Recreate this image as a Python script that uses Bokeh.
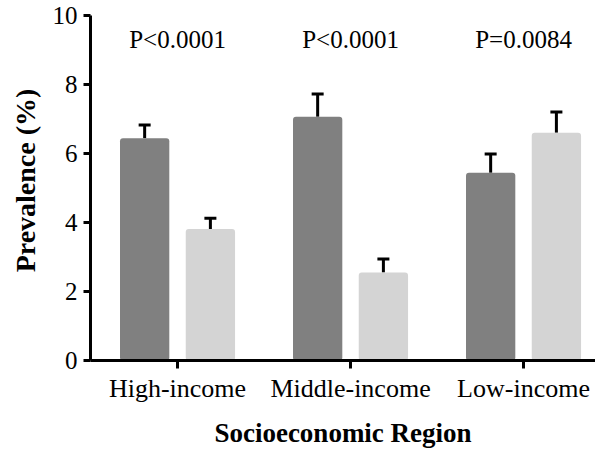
from bokeh.plotting import figure
from bokeh.models import ColumnDataSource, Whisker, FixedTicker, Range1d, TeeHead
from bokeh.core.properties import value
from bokeh.embed import file_html
from bokeh.resources import INLINE

regions = ["High-income", "Middle-income", "Low-income"]
series_a = [6.44, 7.06, 5.44]
series_a_err = [0.38, 0.66, 0.54]
series_b = [3.81, 2.55, 6.60]
series_b_err = [0.31, 0.39, 0.60]
p_labels = ["P<0.0001", "P<0.0001", "P=0.0084"]
y_ticks = [0, 2, 4, 6, 8, 10]

FONT = "Liberation Serif"
off = 0.19
bw = 0.285
xs = list(range(len(regions)))

p = figure(width=595, height=450, output_backend="svg", toolbar_location=None,
           x_range=Range1d(-0.503, 2.416), y_range=Range1d(0, 10.43),
           min_border_left=90, min_border_right=0, min_border_top=0, min_border_bottom=89)
p.outline_line_color = None
p.grid.visible = False

src_a = ColumnDataSource(dict(x=[x - off for x in xs], top=series_a,
                              up=[v + e for v, e in zip(series_a, series_a_err)]))
src_b = ColumnDataSource(dict(x=[x + off for x in xs], top=series_b,
                              up=[v + e for v, e in zip(series_b, series_b_err)]))

for src, col in ((src_a, "#808080"), (src_b, "#d4d4d4")):
    p.vbar(x="x", top="top", bottom=0, width=bw, source=src, fill_color=col,
           line_color=None, border_radius=3)
    w = Whisker(base="x", lower="top", upper="up", source=src, line_width=3,
                line_color="black", lower_head=None,
                upper_head=TeeHead(size=12, line_width=3, line_color="black"))
    p.add_layout(w)

p.text(x=xs, y=[9.3] * 3, text=p_labels, text_font=value(FONT), text_font_size="25px",
       text_align="center", text_baseline="middle", text_color="black")

p.xaxis.ticker = FixedTicker(ticks=xs)
p.xaxis.major_label_overrides = {i: r for i, r in enumerate(regions)}
p.yaxis.ticker = FixedTicker(ticks=y_ticks)
p.yaxis.bounds = (0, 10)

for ax in (p.xaxis, p.yaxis):
    ax.axis_line_width = 3
    ax.axis_line_color = "black"
    ax.major_tick_line_width = 3
    ax.major_tick_line_color = "black"
    ax.major_tick_in = 0
    ax.minor_tick_line_color = None
    ax.major_label_text_font = FONT
    ax.major_label_text_color = "black"
    ax.axis_label_text_font = FONT
    ax.axis_label_text_font_style = "bold"
    ax.axis_label_text_color = "black"

p.xaxis.major_label_text_font_size = "26px"
p.yaxis.major_label_text_font_size = "25px"
p.xaxis.major_tick_out = 8
p.yaxis.major_tick_out = 7
p.xaxis.major_label_standoff = 5
p.yaxis.major_label_standoff = 6
p.xaxis.axis_label = "Socioeconomic Region"
p.yaxis.axis_label = "Prevalence (%)"
p.xaxis.axis_label_text_font_size = "27px"
p.yaxis.axis_label_text_font_size = "28px"
p.xaxis.axis_label_standoff = 12
p.yaxis.axis_label_standoff = 9

open("out.html", "w").write(file_html(p, INLINE))
